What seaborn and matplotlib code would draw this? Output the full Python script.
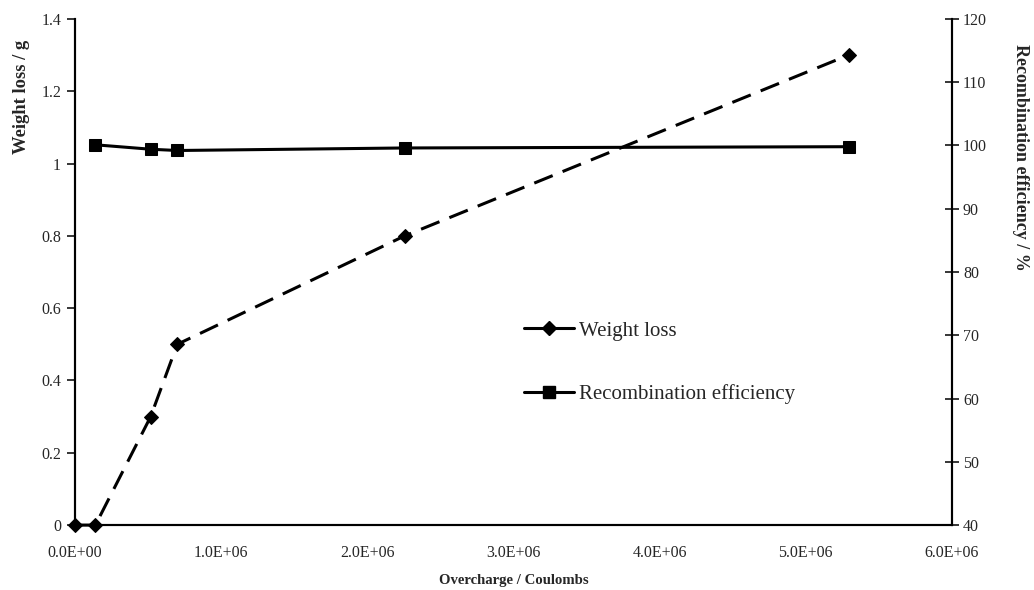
import numpy as np
import pandas as pd
import matplotlib
matplotlib.use("Agg")
import matplotlib.pyplot as plt
import seaborn as sns
from matplotlib.lines import Line2D
from matplotlib.ticker import FuncFormatter, MultipleLocator

sns.set_style("white")
plt.rcParams["font.family"] = ["Liberation Serif", "DejaVu Serif"]

# data
wl_charge = [0.0, 0.14e6, 0.518e6, 0.70e6, 2.257e6, 5.294e6]
wl_values = [0.0, 0.0, 0.3, 0.5, 0.8, 1.3]

re_charge = [0.14e6, 0.518e6, 0.70e6, 2.257e6, 5.294e6]
re_values = [100.1, 99.4, 99.2, 99.6, 99.8]

df_wl = pd.DataFrame({"charge": wl_charge, "value": wl_values})
df_re = pd.DataFrame({"charge": re_charge, "value": re_values})

fig = plt.figure(figsize=(10.34, 5.9), dpi=100)
ax = fig.add_axes([0.0725, 0.110, 0.848, 0.858])
ax2 = ax.twinx()

sns.lineplot(data=df_wl, x="charge", y="value", ax=ax, color="black",
             linewidth=2.2, linestyle=(0, (6.5, 3.5)), marker="D", markersize=7,
             markeredgecolor="black", clip_on=False, zorder=5)
sns.lineplot(data=df_re, x="charge", y="value", ax=ax2, color="black",
             linewidth=2.2, marker="s", markersize=9,
             markeredgecolor="black", clip_on=False, zorder=5)

ax.set_xlim(0, 6e6)
ax.set_ylim(0, 1.4)
ax2.set_ylim(40, 120)
ax.yaxis.set_major_locator(MultipleLocator(0.2))
ax2.yaxis.set_major_locator(MultipleLocator(10))
ax.xaxis.set_major_locator(MultipleLocator(1e6))
ax.yaxis.set_major_formatter(FuncFormatter(lambda v, p: f"{v:g}"))
ax.xaxis.set_major_formatter(FuncFormatter(
    lambda v, p: "0.0E+00" if v == 0 else f"{v/1e6:.1f}E+06"))

for a in (ax, ax2):
    a.grid(False)
    a.spines["top"].set_visible(False)
    for s in a.spines.values():
        s.set_linewidth(1.5)
        s.set_color("black")

ax.tick_params(axis="y", direction="out", length=6, width=1.3, labelsize=11.5, pad=4)
ax.tick_params(axis="x", direction="in", length=6, width=1.3, labelsize=11.5, pad=14)
ax2.tick_params(axis="y", direction="inout", length=10, width=1.3, labelsize=11.5, pad=3)

ax.set_xlabel("Overcharge / Coulombs", fontsize=10.6, fontweight="bold", labelpad=10)
ax.set_ylabel("Weight loss / g", fontsize=13.4, fontweight="bold", labelpad=8)
ax.yaxis.label.set_y(0.846)
ax2.set_ylabel("Recombination efficiency / %", fontsize=13, fontweight="bold",
               rotation=270, labelpad=30)
ax2.yaxis.label.set_y(0.727)

handles = [
    Line2D([], [], color="black", linewidth=2.2, marker="D", markersize=7),
    Line2D([], [], color="black", linewidth=2.2, marker="s", markersize=9),
]
ax2.legend(handles, ["Weight loss", "Recombination efficiency"], frameon=False,
           fontsize=15, handlelength=2.4, handletextpad=0.24, labelspacing=2.1,
           loc="upper left", bbox_to_anchor=(0.491, 0.44))

fig.savefig("out.png", dpi=100)
